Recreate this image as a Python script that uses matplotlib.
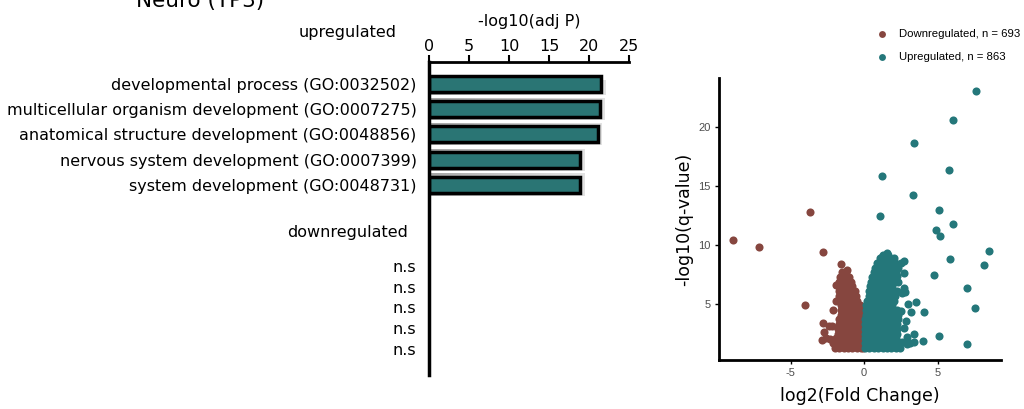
import numpy as np
import matplotlib
matplotlib.use("Agg")
import matplotlib.pyplot as plt

plt.rcParams["axes.unicode_minus"] = False

# ---- enrichment bars (left panel) ----
up_terms = ["developmental process (GO:0032502)",
            "multicellular organism development (GO:0007275)",
            "anatomical structure development (GO:0048856)",
            "nervous system development (GO:0007399)",
            "system development (GO:0048731)"]
up_logp = [21.5, 21.4, 21.1, 18.9, 18.9]
down_terms = ["n.s", "n.s", "n.s", "n.s", "n.s"]

# ---- volcano outliers ----
down_x = [-8.93, -7.14, -3.65, -2.79, -4.05, -1.56, -1.18, -1.65, -2.81, -2.72,
          -2.88, -2.2, -1.93, -2.1, -2.3, -2.6, -2.4, -1.9]
down_y = [10.4, 9.86, 12.8, 9.43, 4.89, 8.39, 7.88, 7.29, 3.36, 2.63,
          1.97, 3.1, 5.25, 4.5, 2.0, 2.1, 3.1, 6.6]
up_x = [7.6, 6.03, 3.42, 1.22, 5.76, 3.29, 1.09, 5.08, 6.05, 4.9, 5.15, 8.46,
        5.83, 8.16, 4.72, 7.0, 7.55, 7.0, 5.08, 4.0, 4.06, 3.5, 3.0, 3.4, 3.42,
        2.84, 3.2, 2.72, 2.8, 2.7, 2.2, 1.54, 1.22, 2.06, 2.72, 0.98,
        2.6, 2.9, 2.7, 2.5, 2.6, 2.5, 3.1, 2.9]
up_y = [23.1, 20.6, 18.7, 15.85, 16.35, 14.3, 12.5, 13.0, 11.8, 11.3, 10.8, 9.5,
        8.8, 8.28, 7.5, 6.4, 4.7, 1.64, 2.25, 1.9, 4.32, 5.2, 5.0, 2.5, 1.8,
        3.6, 4.3, 6.4, 6.0, 7.6, 7.4, 9.3, 9.0, 8.7, 8.7, 8.4,
        1.8, 1.6, 3.0, 4.4, 5.9, 8.5, 1.7, 2.2]

# dense part of the clouds, one row of x values per q-value level
down_rows = {
    1.3: [-2.0, -1.7, -1.4, -1.1, -0.8, -0.5, -0.2, -0.08],
    1.7: [-2.1, -1.8, -1.5, -1.2, -0.9, -0.6, -0.3, -0.08],
    2.1: [-1.9, -1.6, -1.3, -1.0, -0.7, -0.4, -0.1],
    2.5: [-1.8, -1.5, -1.2, -0.9, -0.6, -0.3, -0.1],
    2.9: [-1.8, -1.5, -1.2, -0.9, -0.6, -0.3, -0.1],
    3.3: [-1.7, -1.4, -1.1, -0.8, -0.5, -0.2, -0.1],
    3.7: [-1.7, -1.4, -1.1, -0.8, -0.5, -0.2, -0.12],
    4.1: [-1.6, -1.3, -1.0, -0.7, -0.4, -0.15],
    4.5: [-1.6, -1.3, -1.0, -0.7, -0.4, -0.2],
    4.9: [-1.6, -1.3, -1.0, -0.7, -0.4, -0.25],
    5.3: [-1.6, -1.3, -1.0, -0.7, -0.45],
    5.7: [-1.7, -1.4, -1.1, -0.8, -0.55],
    6.1: [-1.7, -1.4, -1.1, -0.8, -0.6],
    6.5: [-1.7, -1.4, -1.1, -0.8],
    6.9: [-1.7, -1.4, -1.1, -0.9],
    7.3: [-1.6, -1.3, -1.0],
    7.7: [-1.5, -1.2],
}
up_rows = {
    1.3: [0.05, 0.35, 0.65, 0.95, 1.25, 1.55, 1.85, 2.15, 2.45],
    1.7: [0.05, 0.35, 0.65, 0.95, 1.25, 1.55, 1.85, 2.15, 2.4],
    2.1: [0.05, 0.35, 0.65, 0.95, 1.25, 1.55, 1.85, 2.15],
    2.5: [0.07, 0.35, 0.65, 0.95, 1.25, 1.55, 1.85, 2.2],
    2.9: [0.07, 0.35, 0.65, 0.95, 1.25, 1.55, 1.85, 2.2],
    3.3: [0.08, 0.38, 0.68, 0.98, 1.28, 1.58, 1.88, 2.2],
    3.7: [0.08, 0.38, 0.68, 0.98, 1.28, 1.58, 1.88, 2.3],
    4.1: [0.1, 0.4, 0.7, 1.0, 1.3, 1.6, 1.9, 2.3],
    4.5: [0.1, 0.4, 0.7, 1.0, 1.3, 1.6, 1.9, 2.2],
    4.9: [0.12, 0.42, 0.72, 1.02, 1.32, 1.62, 1.92],
    5.3: [0.2, 0.5, 0.8, 1.1, 1.4, 1.7, 2.0],
    5.7: [0.3, 0.6, 0.9, 1.2, 1.5, 1.8, 2.1],
    6.1: [0.35, 0.65, 0.95, 1.25, 1.55, 1.85, 2.2],
    6.5: [0.4, 0.7, 1.0, 1.3, 1.6, 1.9],
    6.9: [0.5, 0.8, 1.1, 1.4, 1.7, 2.0, 2.3],
    7.3: [0.55, 0.85, 1.15, 1.45, 1.75, 2.05],
    7.7: [0.65, 0.95, 1.25, 1.55, 1.85, 2.15],
    8.1: [0.75, 1.05, 1.35, 1.65, 1.95, 2.3],
    8.5: [0.9, 1.2, 1.5, 1.8, 2.1],
    8.9: [1.1, 1.4, 1.7, 2.0],
    9.2: [1.3, 1.6],
}
n_down = 693
n_up = 863

teal = "#24777a"
brown = "#86463f"
bar_teal = "#2a7574"

fig = plt.figure(figsize=(10.24, 4.09), dpi=100)

# left panel, y in pixel-like units so rows keep their uneven spacing
ax = fig.add_axes([429/1024, 1 - 375/409, 200/1024, 313/409])
bar_pos = [84, 109, 134, 160, 185]
ns_pos = [266, 287, 307, 328, 349]
ramp = np.linspace(0.45, 0.2, 50).reshape(1, -1)
for i, (yp, v) in enumerate(zip(bar_pos, up_logp)):
    top = yp - 4 if i == 0 else yp - 11
    ax.imshow(ramp, extent=[0.1, v + 0.5, yp + 11, top], cmap="Greys",
              vmin=0, vmax=1, aspect="auto", zorder=1, interpolation="bilinear")
ax.barh(bar_pos, up_logp, height=16, color=bar_teal, edgecolor="black",
        linewidth=2.5, zorder=2)
ax.set_xlim(0, 25)
ax.set_ylim(375, 62)
ax.set_yticks(bar_pos + ns_pos)
ax.set_yticklabels(up_terms + down_terms, fontsize=11.5)
ax.tick_params(axis="y", length=0, pad=9)
ax.xaxis.tick_top()
ax.xaxis.set_label_position("top")
ax.set_xticks([0, 5, 10, 15, 20, 25])
ax.tick_params(axis="x", labelsize=11.5, length=5, width=1.5, pad=1)
ax.set_xlabel("-log10(adj P)", fontsize=11.5, labelpad=9)
for s in ["bottom", "right"]:
    ax.spines[s].set_visible(False)
ax.spines["top"].set_linewidth(2)
ax.spines["left"].set_linewidth(2.5)

fig.text(397/1024, 1 - 33/409, "upregulated", ha="right", va="center", fontsize=11.5)
fig.text(408/1024, 1 - 233/409, "downregulated", ha="right", va="center", fontsize=11.5)
fig.text(200/1024, 1 - 7/409, "Neuro (TP3)", ha="center", va="baseline", fontsize=15.5)

# volcano panel
vx = fig.add_axes([719/1024, 1 - 360/409, 282/1024, 282/409])
dcx = [x for y, xs in down_rows.items() for x in xs]
dcy = [y for y, xs in down_rows.items() for x in xs]
ucx = [x for y, xs in up_rows.items() for x in xs]
ucy = [y for y, xs in up_rows.items() for x in xs]
vx.scatter(down_x + dcx, down_y + dcy, s=34, color=brown, linewidths=0,
           label="Downregulated, n = %d" % n_down)
vx.scatter(up_x + ucx, up_y + ucy, s=34, color=teal, linewidths=0,
           label="Upregulated, n = %d" % n_up)
vx.set_xlim(-9.86, 9.3)
vx.set_ylim(0.25, 24.2)
vx.set_xticks([-5, 0, 5])
vx.set_yticks([5, 10, 15, 20])
vx.tick_params(labelsize=8, labelcolor="#4d4d4d", length=3, width=1, pad=3)
for lab in vx.get_xticklabels() + vx.get_yticklabels():
    lab.set_family("Liberation Sans")
for s in ["top", "right"]:
    vx.spines[s].set_visible(False)
vx.spines["left"].set_linewidth(2)
vx.spines["bottom"].set_linewidth(2)
vx.set_xlabel("log2(Fold Change)", fontsize=12.5, labelpad=6)
vx.set_ylabel("-log10(q-value)", fontsize=12.5, labelpad=4)
vx.legend(loc="center left", bbox_to_anchor=(860/1024, 1 - 45.5/409),
          bbox_transform=fig.transFigure, frameon=False,
          handletextpad=0.5, labelspacing=1.15, markerscale=0.85,
          prop={"family": "Liberation Sans", "size": 8.2})

fig.savefig("out.png", dpi=100)
